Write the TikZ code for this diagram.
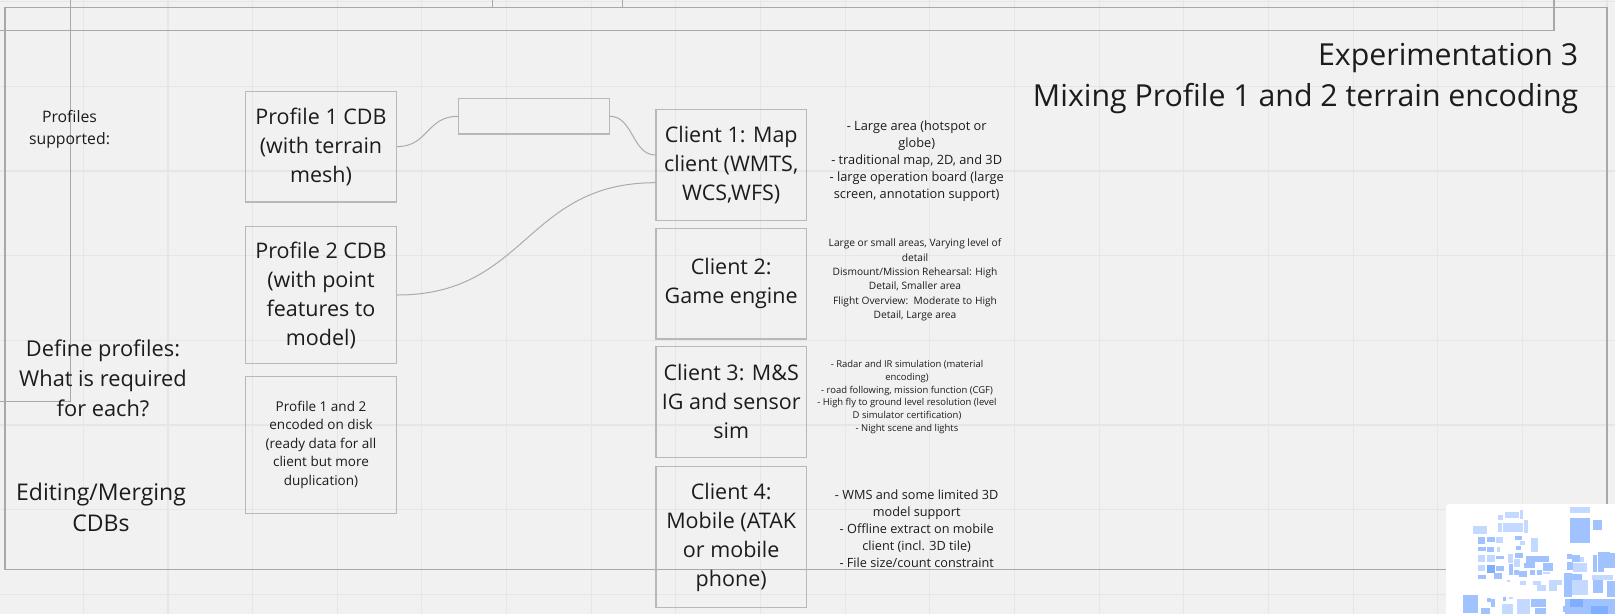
\documentclass[tikz,border=0pt]{standalone}
\usepackage{fontspec}
\setmainfont{Open Sans}
\usetikzlibrary{calc}
\definecolor{bgc}{HTML}{F1F1F1}
\definecolor{gridc}{HTML}{E6E6E6}
\definecolor{boxc}{HTML}{B8B8B8}
\definecolor{framec}{HTML}{A8A8A8}
\definecolor{linkc}{HTML}{ABABAB}
\definecolor{inkc}{HTML}{1C1C1C}
\definecolor{mapc}{HTML}{A0C2FF}
\definecolor{mapl}{HTML}{C4D9FF}
\definecolor{mapd}{HTML}{7FAEFF}
\tikzset{
  cell/.style={draw=boxc,line width=1.3pt,inner sep=0pt,align=center,text=inkc,font=\fontsize{21.5}{29}\selectfont},
  smallcell/.style={cell,font=\fontsize{13.5}{18.4}\selectfont},
  note/.style={inner sep=0pt,align=center,text=inkc},
  link/.style={draw=linkc,line width=1pt},
  frameln/.style={draw=framec,line width=1.1pt},
  gridln/.style={draw=gridc,line width=1.1pt},
}
\begin{document}
\begin{tikzpicture}[x=1pt,y=-1pt]
\useasboundingbox (0,0) rectangle (1615,614);
\fill[bgc] (0,0) rectangle (1615,614);
% grid
\foreach \k in {0,...,18} \draw[gridln] ({83.3+84.65*\k},0) -- ({83.3+84.65*\k},614);
\foreach \k in {0,...,7} \draw[gridln] (0,{1.7+84.65*\k}) -- (1615,{1.7+84.65*\k});
% frames
\draw[frameln] (5,569.3) rectangle (1607,7.5);
\draw[frameln] (492.4,0) -- (492.4,7.5) -- (622.9,7.5) -- (622.9,0);
\draw[frameln] (1554,0) -- (1554,30.3) -- (0,30.3);
\draw[frameln] (70.7,0) -- (70.7,401.7) -- (0,401.7);
% boxes
\node[cell,minimum width=151pt,minimum height=110.7pt] (p1) at (321,146.6) {Profile 1 CDB\\(with terrain\\mesh)};
\node[cell,minimum width=151pt,minimum height=136.7pt] (p2) at (321,295) {Profile 2 CDB\\(with point\\features to\\model)};
\node[smallcell,minimum width=151pt,minimum height=137pt] (p3) at (321,444.8) {Profile 1 and 2\\encoded on disk\\(ready data for all\\client but more\\duplication)};
\node[draw=boxc,line width=1.3pt,inner sep=0pt,minimum width=151pt,minimum height=35.3pt] (blank) at (533.9,116.3) {};
\node[cell,minimum width=150.3pt,minimum height=110.6pt] (c1) at (731.2,165) {Client 1: Map\\client (WMTS,\\WCS,WFS)};
\node[cell,minimum width=150.3pt,minimum height=110.7pt] (c2) at (731.2,283.7) {Client 2:\\Game engine};
\node[cell,minimum width=150.3pt,minimum height=111pt] (c3) at (731.2,401.8) {Client 3: M\&S\\IG and sensor\\sim};
\node[cell,minimum width=150.3pt,minimum height=141pt] (c4) at (731.2,537.2) {Client 4:\\Mobile (ATAK\\or mobile\\phone)};
% connectors
\coordinate (c1a) at ($(c1.west)+(0,-10)$);
\coordinate (c1b) at ($(c1.west)+(0,17.7)$);
\draw[link] (p1.east) .. controls ($(p1.east)+(31,0)$) and ($(blank.west)+(-31,0)$) .. (blank.west);
\draw[link] (blank.east) .. controls ($(blank.east)+(23,0)$) and ($(c1a)+(-23,0)$) .. (c1a);
\draw[link] (p2.east) .. controls ($(p2.east)+(130,0)$) and ($(c1b)+(-130,0)$) .. (c1b);
% texts
\node[note,font=\fontsize{30.3}{41.5}\selectfont,align=right,anchor=east] (title) at (1578.4,78.5) {Experimentation 3\\Mixing Profile 1 and 2 terrain encoding};
\node[note,font=\fontsize{15.8}{22}\selectfont] (sup) at (69.5,129.5) {Profiles\\supported:};
\node[note,font=\fontsize{21.8}{30}\selectfont] (def) at (103,378) {Define profiles:\\What is required\\for each?};
\node[note,font=\fontsize{23}{31}\selectfont] (edit) at (101,507.5) {Editing/Merging\\CDBs};
\node[note,font=\fontsize{12.8}{17}\selectfont] (d1) at (916.7,161.5) {- Large area (hotspot or\\globe)\\- traditional map, 2D, and 3D\\- large operation board (large\\screen, annotation support)};
\node[note,font=\fontsize{10.2}{14.3}\selectfont] (d2) at (915,280) {Large or small areas, Varying level of\\detail\\Dismount/Mission Rehearsal: High\\Detail, Smaller area\\Flight Overview:\ \ Moderate to High\\Detail, Large area};
\node[note,font=\fontsize{9.45}{12.8}\selectfont] (d3) at (907,397) {- Radar and IR simulation (material\\encoding)\\- road following, mission function (CGF)\\- High fly to ground level resolution (level\\D simulator certification)\\- Night scene and lights};
\node[note,font=\fontsize{12.7}{17}\selectfont] (d4) at (916.7,528.5) {- WMS and some limited 3D\\model support\\- Offline extract on mobile\\client (incl. 3D tile)\\- File size/count constraint};
% minimap
\fill[white,rounded corners=3pt] (1446,504) rectangle (1625,624);
\begin{scope}[shift={(1380,470)},x=0.3333pt,y=-0.3333pt]
\foreach \a/\b/\c/\d in {570/143/630/220,640/150/666/180,
295/200/316/222,320/200/345/215,405/198/427/210,408/228/424/240,
295/232/317/244,321/230/343/247,
347/257/372/267,405/250/430/265,438/258/464/280,465/258/507/276,433/280/465/294,488/278/520/303,
347/288/371/302,386/282/400/315,403/300/417/315,417/303/442/322,450/300/466/315,470/300/485/315,
295/315/317/326,343/309/365/327,
560/252/575/268,575/255/600/275,562/276/580/300,640/255/652/305,653/245/672/305,672/245/690/295,690/250/705/295,
552/310/575/380,575/312/605/330,560/362/615/375,640/330/670/370,682/332/705/380,
248/376/295/428,303/415/330/432,322/383/332/395,332/388/345/410,368/382/378/392,452/386/498/412,465/415/497/432,548/408/562/425,555/386/705/432}
  \fill[mapc] (\a,\b) rectangle (\c,\d);
\foreach \a/\b/\c/\d in {570/110/630/130,420/120/428/146,375/125/418/145,355/135/368/150,355/160/365/185,370/158/428/185,432/150/445/188,280/168/320/192,
347/200/370/220,420/212/435/225,452/205/475/245,352/232/360/246,
295/255/316/277,320/255/345/277,385/252/400/280,403/268/420/290,
295/285/316/302,490/305/510/312,380/330/390/335,420/332/438/345,
460/332/484/345,472/345/497/362,507/330/545/345,507/345/530/362,
600/260/612/275,580/280/620/305,575/330/625/375,635/315/700/330,
388/382/398/388,365/402/400/432,410/388/450/432}
  \fill[mapl] (\a,\b) rectangle (\c,\d);
\fill[mapd] (320,285) rectangle (345,308);
\fill[mapd] (570,388) rectangle (610,410);
\fill[mapd] (632,408) rectangle (685,432);
\end{scope}
\end{tikzpicture}
\end{document}
